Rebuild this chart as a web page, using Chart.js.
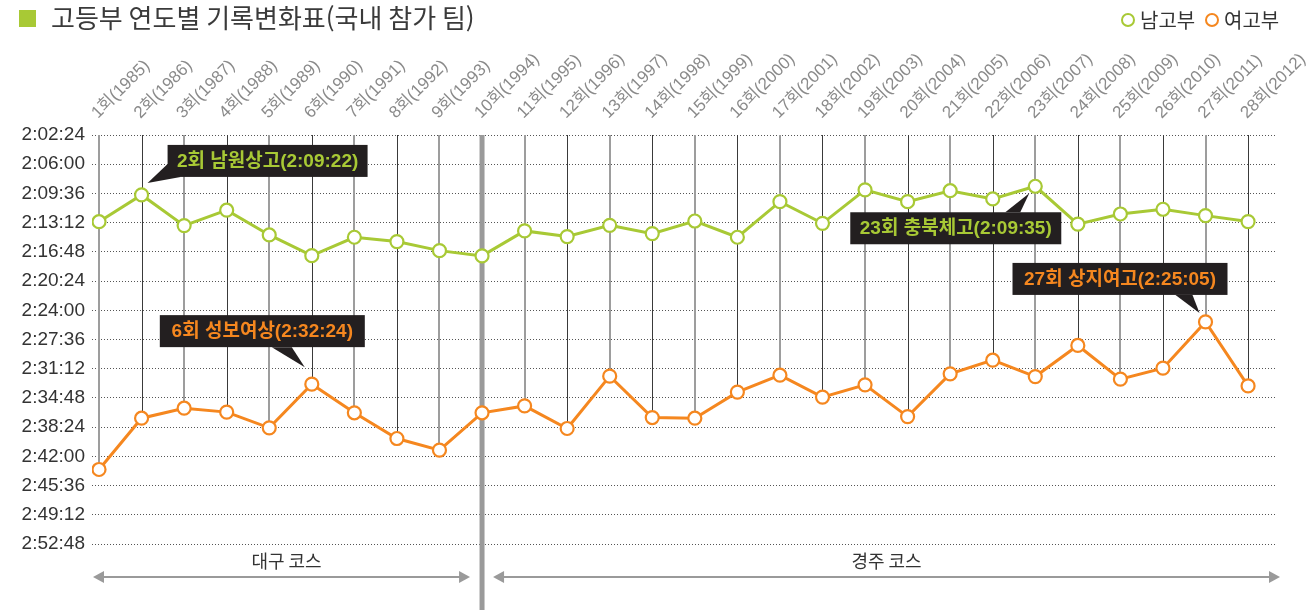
<!DOCTYPE html>
<html lang="ko">
<head>
<meta charset="utf-8">
<title>고등부 연도별 기록변화표</title>
<script src="https://cdn.jsdelivr.net/npm/chart.js@4.4.1/dist/chart.umd.min.js"></script>
<style>
  html, body { margin: 0; padding: 0; background: #fff; }
  #wrap { width: 1307px; height: 610px; }
</style>
</head>
<body>
<div id="wrap"><canvas id="chart" width="1307" height="610"></canvas></div>
<script>
var rounds = ['1회(1985)', '2회(1986)', '3회(1987)', '4회(1988)', '5회(1989)', '6회(1990)', '7회(1991)',
    '8회(1992)', '9회(1993)', '10회(1994)', '11회(1995)', '12회(1996)', '13회(1997)', '14회(1998)',
    '15회(1999)', '16회(2000)', '17회(2001)', '18회(2002)', '19회(2003)', '20회(2004)', '21회(2005)',
    '22회(2006)', '23회(2007)', '24회(2008)', '25회(2009)', '26회(2010)', '27회(2011)', '28회(2012)'];

var boysTimes = ['2:13:05', '2:09:47', '2:13:34', '2:11:40', '2:14:43', '2:17:16', '2:15:00',
    '2:15:32', '2:16:39', '2:17:18', '2:14:13', '2:14:55', '2:13:32', '2:14:33',
    '2:13:00', '2:15:00', '2:10:37', '2:13:17', '2:09:10', '2:10:37', '2:09:16',
    '2:10:17', '2:08:43', '2:13:23', '2:12:08', '2:11:33', '2:12:20', '2:13:04'];

var girlsTimes = ['2:43:37', '2:37:18', '2:36:04', '2:36:33', '2:38:29', '2:33:06', '2:36:38',
    '2:39:48', '2:41:14', '2:36:38', '2:35:47', '2:38:34', '2:32:07', '2:37:13',
    '2:37:18', '2:34:05', '2:32:00', '2:34:42', '2:33:11', '2:37:06', '2:31:50',
    '2:30:09', '2:32:10', '2:28:20', '2:32:29', '2:31:08', '2:25:26', '2:33:19'];

var timeTicks = ['2:02:24', '2:06:00', '2:09:36', '2:13:12', '2:16:48', '2:20:24', '2:24:00', '2:27:36',
    '2:31:12', '2:34:48', '2:38:24', '2:42:00', '2:45:36', '2:49:12', '2:52:48'];

var seriesNames = ['남고부', '여고부'];
var courseNames = ['대구 코스', '경주 코스'];
var courseSplit = 10; // 10회부터 경주 코스
var noteTexts = ['2회 남원상고(2:09:22)', '6회 성보여상(2:32:24)', '23회 충북체고(2:09:35)', '27회 상지여고(2:25:05)'];
var noteSeries = [0, 1, 0, 1];
var noteRounds = [2, 6, 23, 27];

var GREEN = '#a8c935';
var ORANGE = '#f5871f';
var FONT = "'Liberation Sans', 'Noto Sans CJK KR', sans-serif";
var KFONT = "'Noto Sans CJK KR', sans-serif";

function toSec(t) {
    var p = t.split(':');
    return (+p[0]) * 3600 + (+p[1]) * 60 + (+p[2]);
}

function fmt(s) {
    var h = Math.floor(s / 3600);
    var m = Math.floor((s % 3600) / 60);
    var sec = Math.round(s % 60);
    return h + ':' + (m < 10 ? '0' : '') + m + ':' + (sec < 10 ? '0' : '') + sec;
}

var tickVals = timeTicks.map(toSec);

function points(times) {
    return times.map(function (t, i) {
        return { x: i + 1, y: toSec(t) };
    });
}

// where the callout boxes sit relative to their point
var noteLayout = [
    { dx: 26, dy: -50, w: 200, tri: [[26, -31], [39, -18], [6, -12]] },
    { dx: -152, dy: -69, w: 205, tri: [[-40, -37], [-20, -37], [-7, -17]] },
    { dx: -185, dy: 26, w: 211, tri: [[-30, 26], [-15, 26], [-6, 7]] },
    { dx: -193, dy: -59, w: 215, tri: [[-30, -27], [-13, -27], [-6, -9]] }
];

function arrowHead(ctx, x, y, dir) {
    ctx.beginPath();
    ctx.moveTo(x, y);
    ctx.lineTo(x - dir * 11, y - 6);
    ctx.lineTo(x - dir * 11, y + 6);
    ctx.closePath();
    ctx.fill();
}

var decoPlugin = {
    id: 'deco',
    beforeDatasetsDraw: function (chart) {
        var ctx = chart.ctx;
        var area = chart.chartArea;
        var xs = chart.scales.x;
        var girls = chart.getDatasetMeta(1).data;

        ctx.save();
        for (var i = 0; i < rounds.length; i++) {
            if (i + 1 === courseSplit) continue;
            var x = Math.round(xs.getPixelForValue(i + 1));
            ctx.beginPath();
            if (i % 2 === 0) {
                ctx.strokeStyle = '#9d9d9d';
                ctx.lineWidth = 2;
            } else {
                ctx.strokeStyle = '#3a3a3a';
                ctx.lineWidth = 1;
                x = x + 0.5;
            }
            ctx.moveTo(x, area.top);
            ctx.lineTo(x, girls[i].y);
            ctx.stroke();
        }

        // course divider
        var xd = xs.getPixelForValue(courseSplit);
        ctx.fillStyle = '#9a9a9a';
        ctx.fillRect(xd - 2.5, area.top, 5, chart.height - area.top);
        ctx.restore();
    },

    afterDraw: function (chart) {
        var ctx = chart.ctx;
        var area = chart.chartArea;
        var xs = chart.scales.x;

        ctx.save();

        // title
        ctx.fillStyle = GREEN;
        ctx.fillRect(19, 10, 17, 17);
        ctx.fillStyle = '#3a3a3a';
        ctx.font = '26px ' + KFONT;
        ctx.textBaseline = 'middle';
        ctx.textAlign = 'left';
        ctx.fillText('고등부 연도별 기록변화표(국내 참가 팀)', 51, 18);

        // legend
        var legendX = [1128, 1212];
        var colors = [GREEN, ORANGE];
        ctx.font = '20px ' + KFONT;
        for (var l = 0; l < seriesNames.length; l++) {
            ctx.beginPath();
            ctx.arc(legendX[l], 20, 6, 0, Math.PI * 2);
            ctx.strokeStyle = colors[l];
            ctx.lineWidth = 2;
            ctx.stroke();
            ctx.fillStyle = '#333';
            ctx.fillText(seriesNames[l], legendX[l] + 12, 20);
        }

        // callouts
        ctx.font = 'bold 19px ' + FONT;
        ctx.textAlign = 'center';
        for (var n = 0; n < noteTexts.length; n++) {
            var pt = chart.getDatasetMeta(noteSeries[n]).data[noteRounds[n] - 1];
            var lay = noteLayout[n];
            ctx.fillStyle = '#231f20';
            ctx.fillRect(pt.x + lay.dx, pt.y + lay.dy, lay.w, 32);
            ctx.beginPath();
            ctx.moveTo(pt.x + lay.tri[0][0], pt.y + lay.tri[0][1]);
            ctx.lineTo(pt.x + lay.tri[1][0], pt.y + lay.tri[1][1]);
            ctx.lineTo(pt.x + lay.tri[2][0], pt.y + lay.tri[2][1]);
            ctx.closePath();
            ctx.fill();
            ctx.fillStyle = noteSeries[n] === 0 ? GREEN : ORANGE;
            ctx.fillText(noteTexts[n], pt.x + lay.dx + lay.w / 2, pt.y + lay.dy + 17);
        }

        // course arrows
        var xd = xs.getPixelForValue(courseSplit);
        var spans = [[area.left + 1, xd - 12], [xd + 11, area.right + 3]];
        var ay = 577;
        ctx.strokeStyle = '#9a9a9a';
        ctx.fillStyle = '#9a9a9a';
        ctx.lineWidth = 2;
        for (var c = 0; c < spans.length; c++) {
            ctx.beginPath();
            ctx.moveTo(spans[c][0] + 4, ay);
            ctx.lineTo(spans[c][1] - 4, ay);
            ctx.stroke();
            arrowHead(ctx, spans[c][0], ay, -1);
            arrowHead(ctx, spans[c][1], ay, 1);
        }
        ctx.fillStyle = '#333';
        ctx.font = '18px ' + KFONT;
        ctx.textAlign = 'center';
        for (var k = 0; k < courseNames.length; k++) {
            ctx.fillText(courseNames[k], (spans[k][0] + spans[k][1]) / 2 + (k === 0 ? 5 : 0), 561);
        }

        ctx.restore();
    }
};

function lineSet(label, times, color) {
    return {
        label: label,
        data: points(times),
        borderColor: color,
        borderWidth: 3,
        pointRadius: 6.5,
        pointBorderWidth: 2.2,
        pointBackgroundColor: '#fff',
        pointBorderColor: color,
        tension: 0,
        fill: false
    };
}

new Chart(document.getElementById('chart').getContext('2d'), {
    type: 'line',
    data: {
        datasets: [
            lineSet(seriesNames[0], boysTimes, GREEN),
            lineSet(seriesNames[1], girlsTimes, ORANGE)
        ]
    },
    options: {
        responsive: false,
        animation: false,
        layout: { padding: { left: 0, right: 30, top: 0, bottom: 66 } },
        plugins: {
            legend: { display: false },
            tooltip: { enabled: false }
        },
        scales: {
            x: {
                type: 'linear',
                position: 'top',
                min: 0.835,
                max: 28.68,
                grid: { display: false },
                border: { display: false },
                afterBuildTicks: function (scale) {
                    scale.ticks = rounds.map(function (r, i) {
                        return { value: i + 1 };
                    });
                },
                afterFit: function (scale) {
                    scale.height = 135;
                    scale.paddingLeft = 0;
                    scale.paddingRight = 0;
                },
                ticks: {
                    autoSkip: false,
                    minRotation: 45,
                    maxRotation: 45,
                    padding: 4,
                    labelOffset: 10,
                    color: '#8a8a8a',
                    font: { family: FONT, size: 17 },
                    callback: function (v) {
                        return rounds[Math.round(v) - 1];
                    }
                }
            },
            y: {
                reverse: true,
                min: tickVals[0],
                max: tickVals[tickVals.length - 1],
                afterBuildTicks: function (scale) {
                    scale.ticks = tickVals.map(function (v) {
                        return { value: v };
                    });
                },
                afterFit: function (scale) {
                    scale.width = 92;
                    scale.paddingTop = 0;
                    scale.paddingBottom = 0;
                },
                grid: { color: '#555', lineWidth: 1, drawTicks: false },
                border: { display: false, dash: [1, 2] },
                ticks: {
                    padding: 7,
                    color: '#333',
                    font: { family: FONT, size: 19 },
                    callback: function (v) {
                        return fmt(v);
                    }
                }
            }
        }
    },
    plugins: [decoPlugin]
});
</script>
</body>
</html>
